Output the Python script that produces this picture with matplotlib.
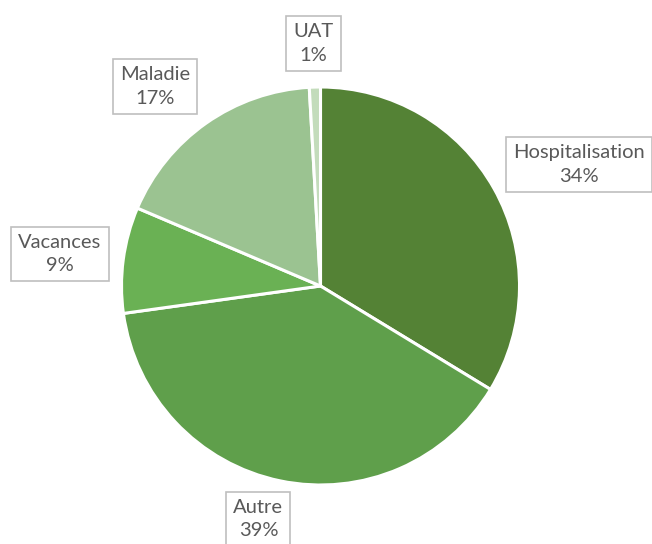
import matplotlib
matplotlib.use("Agg")
import matplotlib.pyplot as plt

# slice data, clockwise from 12 o'clock
categories = ["Hospitalisation", "Autre", "Vacances", "Maladie", "UAT"]
values = [33.7, 39.1, 8.6, 17.7, 0.9]
pct_labels = ["34%", "39%", "9%", "17%", "1%"]
colors = ["#548235", "#5f9f4b", "#6ab154", "#9bc391", "#c3dcbb"]

# where each data label box sits (pie radius = 1)
label_pos = [(1.299, 0.611), (-0.312, -1.171), (-1.309, 0.161),
             (-0.832, 1.003), (-0.035, 1.219)]

plt.rcParams['font.family'] = ['Lato', 'DejaVu Sans']

fig = plt.figure(figsize=(6.52, 5.44), dpi=100)
ax = fig.add_axes([0, 0, 1, 1])

ax.pie(values, colors=colors, startangle=90, counterclock=False,
       radius=1.0, wedgeprops=dict(edgecolor='white', linewidth=2.2))

for name, pct, (x, y) in zip(categories, pct_labels, label_pos):
    ax.text(x, y, name + "\n" + pct, ha='center', va='center', fontsize=14.5,
            color='#595959', linespacing=1.45,
            bbox=dict(boxstyle='square,pad=0.35', facecolor='white',
                      edgecolor='#bfbfbf', linewidth=1.2))

ax.set_xlim(-1.6106, 1.6658)
ax.set_ylim(-1.2965, 1.4372)
ax.set_aspect('equal')
ax.axis('off')

fig.savefig("out.png", dpi=100)
